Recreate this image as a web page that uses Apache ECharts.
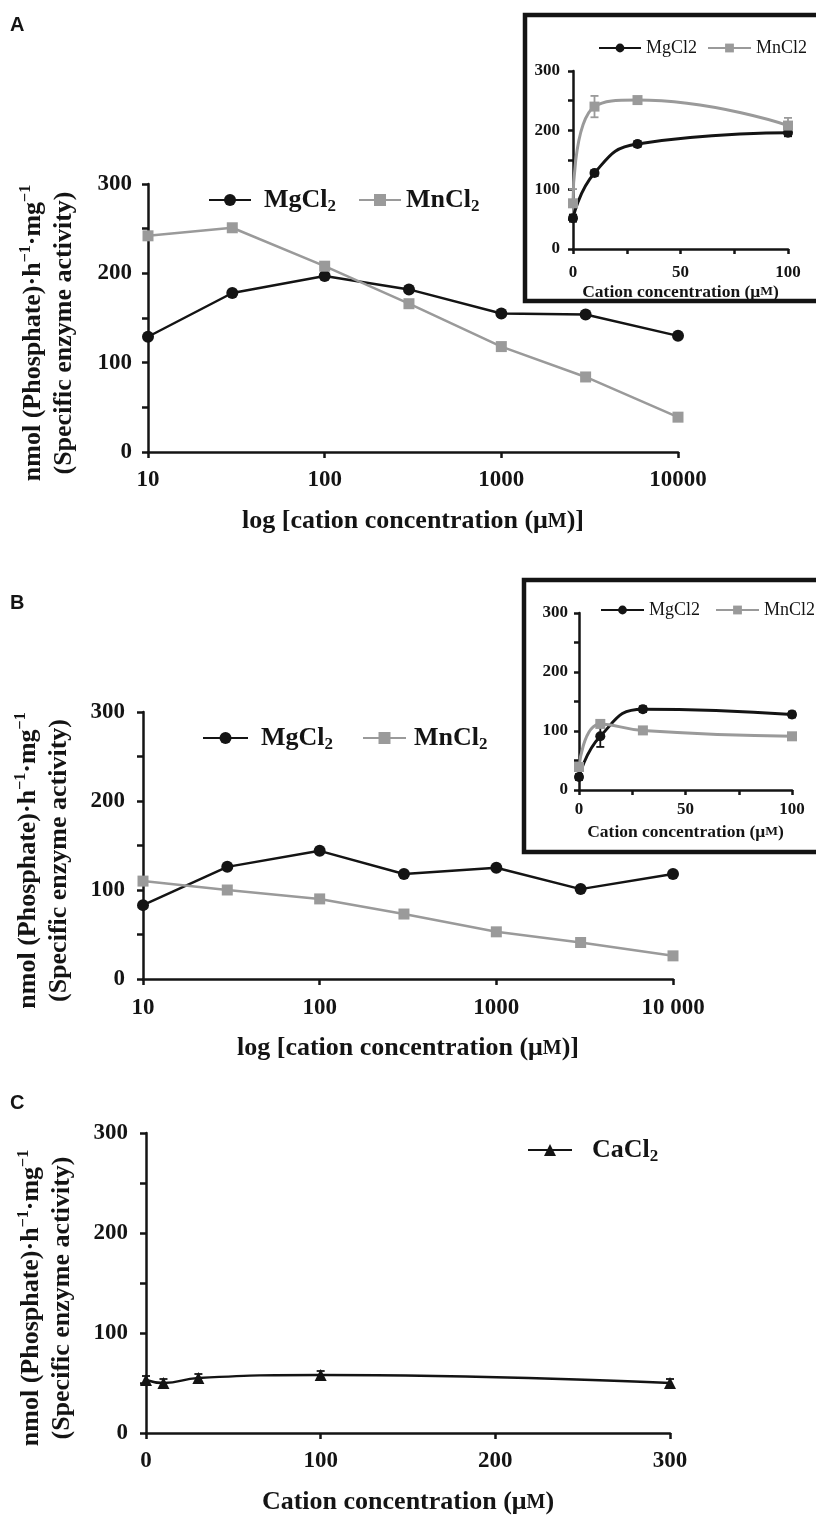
<!DOCTYPE html>
<html><head><meta charset="utf-8">
<script src="https://cdn.jsdelivr.net/npm/echarts@6/dist/echarts.min.js"></script>
<style>html,body{margin:0;padding:0;background:#fff}#c{width:816px;height:1515px}</style>
</head><body><div id="c"></div>
<script>
// ---------- data ----------
const logConc = [10, 30, 100, 300, 1000, 3000, 10000];
const mgA = [129, 178, 197, 182, 155, 154, 130];
const mnA = [242, 251, 208, 166, 118, 84, 39];
const insetConc = [0, 10, 30, 100];
const mgAInset = [52, 128, 177, 196];
const mgAInsetErr = [6, 5, 5, 6];
const mnAInset = [77, 240, 251, 208];
const mnAInsetErr = [24, 18, 5, 13];
const mgB = [83, 126, 144, 118, 125, 101, 118];
const mnB = [110, 100, 90, 73, 53, 41, 26];
const mgBInset = [22, 91, 137, 128];
const mgBInsetErr = [5, 18, 5, 5];
const mnBInset = [39, 112, 101, 91];
const mnBInsetErr = [5, 5, 5, 5];
const caConc = [0, 10, 30, 100, 300];
const caC = [53, 50, 55, 58, 50];
const caCErr = [4, 4, 4, 4, 4];
const xTickLabelsA = ['10', '100', '1000', '10000'];
const xTickLabelsB = ['10', '100', '1000', '10 000'];

// ---------- styling ----------
const BLACK = '#141414', GRAY = '#9a9a9a';
const SERIF = 'Liberation Serif';
const nameRich = {
  n: {fontFamily: SERIF, fontWeight: 'bold', fontSize: 26, lineHeight: 31, color: BLACK},
  s: {fontFamily: SERIF, fontWeight: 'bold', fontSize: 16, lineHeight: 21, verticalAlign: 'top', color: BLACK},
  sc: {fontFamily: SERIF, fontWeight: 'bold', fontSize: 20, lineHeight: 31, color: BLACK}
};
const insetRich = {
  n: {fontFamily: SERIF, fontWeight: 'bold', fontSize: 17.5, lineHeight: 20, color: BLACK},
  sc: {fontFamily: SERIF, fontWeight: 'bold', fontSize: 13.5, lineHeight: 20, color: BLACK}
};
const yName = '{n|nmol (Phosphate)·h}{s|−1}{n|·mg}{s|−1}\n{n|(Specific enzyme activity)}';
const logName = '{n|log [cation concentration (μ}{sc|M}{n|)]}';
const linName = '{n|Cation concentration (μ}{sc|M}{n|)}';

function axLine(w) { return {show: true, onZero: false, lineStyle: {color: BLACK, width: w}}; }
function tick(w, l) { return {show: true, length: l, lineStyle: {color: BLACK, width: w}}; }

function mainY(gi, margin) {
  return {gridIndex: gi, type: 'value', min: 0, max: 300, interval: 100,
    axisLine: axLine(2.5), axisTick: tick(2.5, 6),
    minorTick: {show: true, splitNumber: 2, length: 6, lineStyle: {color: BLACK, width: 2.5}},
    splitLine: {show: false}, minorSplitLine: {show: false},
    axisLabel: {fontFamily: SERIF, fontWeight: 'bold', fontSize: 23, color: BLACK, margin: margin},
    name: yName, nameLocation: 'middle', nameRotate: 90, nameGap: 68,
    nameTextStyle: {rich: nameRich, padding: [0, 30, 0, 0]}};
}
function insetY(gi, margin) {
  return {gridIndex: gi, type: 'value', min: 0, max: 300, interval: 100,
    axisLine: axLine(2.5), axisTick: tick(2.5, 5),
    minorTick: {show: true, splitNumber: 2, length: 5, lineStyle: {color: BLACK, width: 2.5}},
    splitLine: {show: false},
    axisLabel: {fontFamily: SERIF, fontWeight: 'bold', fontSize: 17, color: BLACK, margin: margin}};
}
function logX(gi, labels, margin) {
  return {gridIndex: gi, type: 'log', logBase: 10, min: 10, max: 10000,
    axisLine: axLine(2.5), axisTick: tick(2.5, 6), minorTick: {show: false},
    splitLine: {show: false}, minorSplitLine: {show: false},
    axisLabel: {fontFamily: SERIF, fontWeight: 'bold', fontSize: 23, color: BLACK, margin: margin,
      formatter: (v, i) => labels[i]},
    name: logName, nameLocation: 'middle', nameGap: 54, nameTextStyle: {rich: nameRich}};
}
function insetX(gi, margin, gap) {
  return {gridIndex: gi, type: 'value', min: 0, max: 100, interval: 50,
    axisLine: axLine(2.5), axisTick: tick(2.5, 5),
    minorTick: {show: true, splitNumber: 2, length: 5, lineStyle: {color: BLACK, width: 2.5}},
    splitLine: {show: false},
    axisLabel: {fontFamily: SERIF, fontWeight: 'bold', fontSize: 17, color: BLACK, margin: margin},
    name: linName, nameLocation: 'middle', nameGap: gap, nameTextStyle: {rich: insetRich}};
}
function pairs(xs, ys) { return xs.map((x, i) => [x, ys[i]]); }
function lineSeries(name, xi, xs, ys, color, symbol, size, width, smooth) {
  return {type: 'line', name: name, xAxisIndex: xi, yAxisIndex: xi, data: pairs(xs, ys),
    symbol: symbol, symbolSize: size, smooth: smooth, showSymbol: true,
    lineStyle: {color: color, width: width}, itemStyle: {color: color}, z: 3};
}
function errSeries(xi, xs, ys, es, color) {
  return {type: 'custom', xAxisIndex: xi, yAxisIndex: xi, z: 2,
    data: xs.map((x, i) => [x, ys[i] - es[i], ys[i] + es[i]]),
    renderItem(params, api) {
      const lo = api.coord([api.value(0), api.value(1)]);
      const hi = api.coord([api.value(0), api.value(2)]);
      const w = 4, st = {stroke: color, lineWidth: 1.8};
      return {type: 'group', children: [
        {type: 'line', shape: {x1: lo[0], y1: lo[1], x2: hi[0], y2: hi[1]}, style: st},
        {type: 'line', shape: {x1: lo[0] - w, y1: lo[1], x2: lo[0] + w, y2: lo[1]}, style: st},
        {type: 'line', shape: {x1: hi[0] - w, y1: hi[1], x2: hi[0] + w, y2: hi[1]}, style: st}
      ]};
    }};
}
function mainLegend(name, left, top, width, pad, label) {
  return {data: [name], left: left, top: top, padding: 0, itemWidth: width, itemHeight: 15,
    selectedMode: false,
    formatter: () => '{a|' + label + '}{b|2}',
    textStyle: {rich: {
      a: {fontFamily: SERIF, fontWeight: 'bold', fontSize: 26, lineHeight: 30, color: BLACK, padding: [0, 0, 0, pad]},
      b: {fontFamily: SERIF, fontWeight: 'bold', fontSize: 17, lineHeight: 14, verticalAlign: 'bottom', color: BLACK}}}};
}
function insetLegend(name, left, top, width, pad) {
  return {data: [name], left: left, top: top, padding: 0, itemWidth: width, itemHeight: 11,
    selectedMode: false,
    textStyle: {fontFamily: SERIF, fontSize: 18, lineHeight: 20, color: BLACK, padding: [0, 0, 0, pad]}};
}

const grids = [
  {left: 148, top: 184, width: 530, height: 268},
  {left: 573, top: 71, width: 215, height: 178},
  {left: 143, top: 712, width: 530, height: 267},
  {left: 579, top: 613, width: 213, height: 177},
  {left: 146, top: 1133, width: 524, height: 300}
].map(g => Object.assign(g, {containLabel: false, outerBoundsMode: 'none'}));

const option = {
  animation: false,
  backgroundColor: '#fff',
  grid: grids,
  xAxis: [
    logX(0, xTickLabelsA, 17),
    insetX(1, 15, 33),
    logX(2, xTickLabelsB, 18),
    insetX(3, 11, 32),
    {gridIndex: 4, type: 'value', min: 0, max: 300, interval: 100,
      axisLine: axLine(2.5), axisTick: tick(2.5, 6), splitLine: {show: false},
      axisLabel: {fontFamily: SERIF, fontWeight: 'bold', fontSize: 23, color: BLACK, margin: 17},
      name: linName, nameLocation: 'middle', nameGap: 54, nameTextStyle: {rich: nameRich}}
  ],
  yAxis: [mainY(0, 16), insetY(1, 13), mainY(2, 18), insetY(3, 11), mainY(4, 18)],
  legend: [
    mainLegend('MgCl₂', 208, 187, 42, 8, 'MgCl'),
    mainLegend('MnCl₂', 358, 187, 42, 0, 'MnCl'),
    insetLegend('MgCl2', 598, 38, 42, 0),
    insetLegend('MnCl2 ', 707, 38, 43, 0),
    mainLegend('MgCl₂', 202, 725, 45, 8, 'MgCl'),
    mainLegend('MnCl₂', 362, 725, 43, 3, 'MnCl'),
    insetLegend('MgCl2', 600, 600, 43, 0),
    insetLegend('MnCl2 ', 715, 600, 43, 0),
    mainLegend('CaCl₂', 527, 1137, 44, 15, 'CaCl')
  ],
  series: [
    lineSeries('MgCl₂', 0, logConc, mgA, BLACK, 'circle', 12, 2.5, false),
    lineSeries('MnCl₂', 0, logConc, mnA, GRAY, 'rect', 11, 2.5, false),
    errSeries(1, insetConc, mgAInset, mgAInsetErr, BLACK),
    errSeries(1, insetConc, mnAInset, mnAInsetErr, GRAY),
    lineSeries('MgCl2', 1, insetConc, mgAInset, BLACK, 'circle', 10, 3, true),
    lineSeries('MnCl2 ', 1, insetConc, mnAInset, GRAY, 'rect', 10, 3, true),
    lineSeries('MgCl₂', 2, logConc, mgB, BLACK, 'circle', 12, 2.5, false),
    lineSeries('MnCl₂', 2, logConc, mnB, GRAY, 'rect', 11, 2.5, false),
    errSeries(3, insetConc, mgBInset, mgBInsetErr, BLACK),
    errSeries(3, insetConc, mnBInset, mnBInsetErr, GRAY),
    lineSeries('MgCl2', 3, insetConc, mgBInset, BLACK, 'circle', 10, 3, true),
    lineSeries('MnCl2 ', 3, insetConc, mnBInset, GRAY, 'rect', 10, 3, true),
    errSeries(4, caConc, caC, caCErr, BLACK),
    lineSeries('CaCl₂', 4, caConc, caC, BLACK, 'triangle', 12, 2.5, true)
  ],
  graphic: [
    {type: 'rect', shape: {x: 525, y: 15, width: 300, height: 286}, style: {fill: 'none', stroke: BLACK, lineWidth: 4.5}, z: 10},
    {type: 'rect', shape: {x: 524, y: 580, width: 300, height: 272}, style: {fill: 'none', stroke: BLACK, lineWidth: 4.5}, z: 10},
    {type: 'text', left: 10, top: 15, style: {text: 'A', fontFamily: 'Liberation Sans', fontWeight: 'bold', fontSize: 20, fill: BLACK}},
    {type: 'text', left: 10, top: 593, style: {text: 'B', fontFamily: 'Liberation Sans', fontWeight: 'bold', fontSize: 20, fill: BLACK}},
    {type: 'text', left: 10, top: 1093, style: {text: 'C', fontFamily: 'Liberation Sans', fontWeight: 'bold', fontSize: 20, fill: BLACK}}
  ]
};
const chart = echarts.init(document.getElementById('c'), null, {renderer: 'canvas'});
chart.setOption(option);
</script></body></html>
